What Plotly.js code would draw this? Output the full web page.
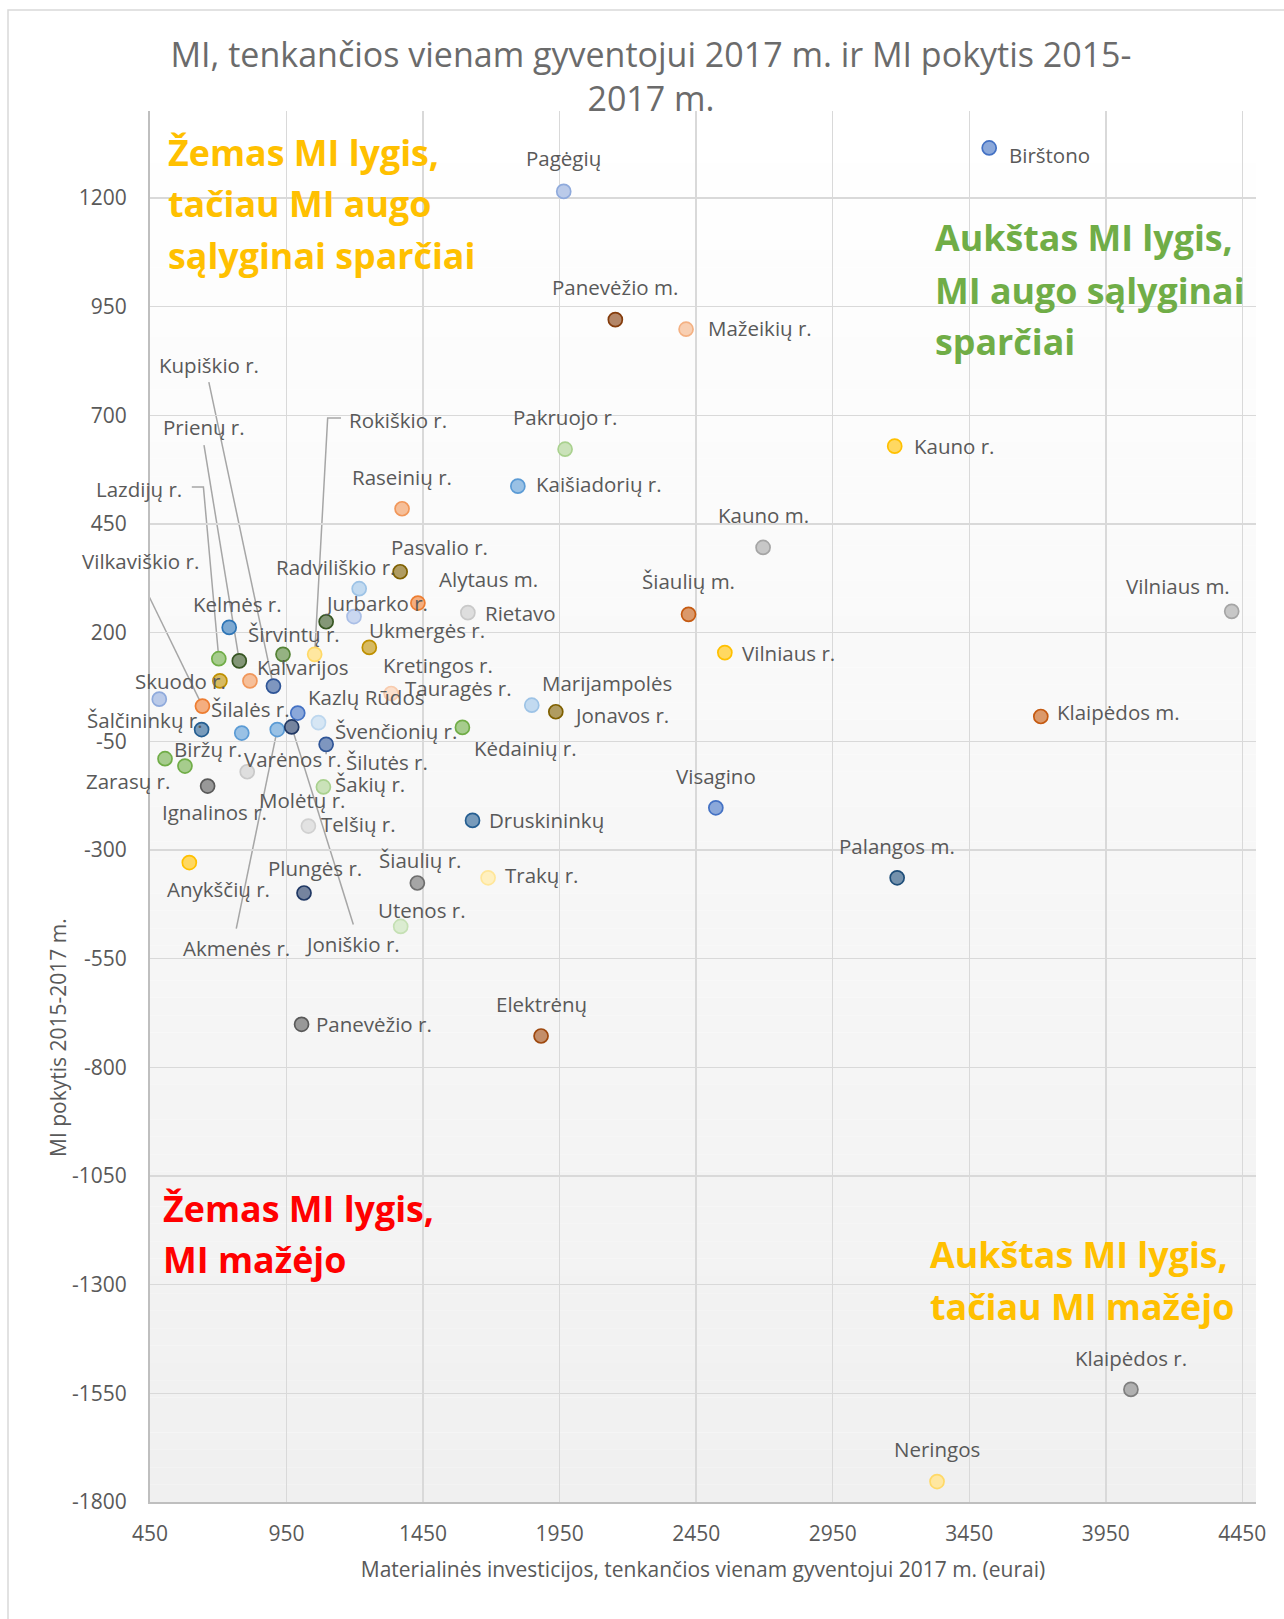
<!DOCTYPE html>
<html>
<head>
<meta charset="utf-8">
<script src="https://cdn.plot.ly/plotly-3.0.1.min.js"></script>
<style>html,body{margin:0;padding:0;background:#fff;}#chart{width:1284px;height:1619px;}</style>
</head>
<body>
<div id="chart"></div>
<script>
// ---------- DATA ----------
const municipalities = [
  "Pagėgių","Birštono","Panevėžio m.","Mažeikių r.","Pakruojo r.","Kauno r.","Kaišiadorių r.","Raseinių r.","Kauno m.","Pasvalio r.",
  "Radviliškio r.","Alytaus m.","Rietavo","Jurbarko r.","Šiaulių m.","Vilniaus m.","Kelmės r.","Širvintų r.","Ukmergės r.","Vilniaus r.",
  "Lazdijų r.","Prienų r.","Kalvarijos","Rokiškio r.","Skuodo r.","Kretingos r.","Kupiškio r.","Tauragės r.","Šilutės r.","Vilkaviškio r.",
  "Marijampolės","Jonavos r.","Kazlų Rūdos","Švenčionių r.","Klaipėdos m.","Šalčininkų r.","Šilalės r.","Akmenės r.","Joniškio r.","Kėdainių r.",
  "Varėnos r.","Zarasų r.","Biržų r.","Molėtų r.","Ignalinos r.","Šakių r.","Visagino","Druskininkų","Telšių r.","Anykščių r.",
  "Trakų r.","Palangos m.","Šiaulių r.","Plungės r.","Utenos r.","Panevėžio r.","Elektrėnų","Klaipėdos r.","Neringos"
];
// Materialinės investicijos, tenkančios vienam gyventojui 2017 m. (eurai)
const investment2017 = [
  1965,3523,2154,2413,1970,3177,1797,1373,2695,1366,
  1216,1431,1614,1197,2422,4411,740,1095,1253,2555,
  702,777,937,1053,706,816,902,1333,484,642,
  1848,1936,991,1067,3712,639,786,916,969,1594,
  1095,505,578,806,661,1085,2522,1631,1030,594,
  1688,3186,1429,1014,1368,1005,1882,4042,3332
];
// MI pokytis 2015-2017 m.
const change2015_2017 = [
  1215,1315,920,898,622,629,537,485,396,340,
  301,268,246,237,242,249,212,225,166,154,
  140,135,150,150,89,89,77,60,47,31,
  33,18,15,-7,7,-23,-31,-23,-17,-18,
  -57,-90,-107,-120,-153,-155,-203,-232,-245,-329,
  -364,-364,-376,-399,-476,-701,-728,-1541,-1753
];
const xTickVals = [450,950,1450,1950,2450,2950,3450,3950,4450];
const yTickVals = [-1800,-1550,-1300,-1050,-800,-550,-300,-50,200,450,700,950,1200];

// ---------- STYLE ----------
const markerBase = {
  "Pagėgių":"#8FAADC","Birštono":"#4472C4","Panevėžio m.":"#843C0C","Mažeikių r.":"#F4B183","Pakruojo r.":"#A9D18E",
  "Kauno r.":"#FFC000","Kaišiadorių r.":"#5B9BD5","Raseinių r.":"#F1975A","Kauno m.":"#A5A5A5","Pasvalio r.":"#7F6000",
  "Radviliškio r.":"#9DC3E6","Alytaus m.":"#ED7D31","Rietavo":"#C9C9C9","Jurbarko r.":"#A9BEE6","Šiaulių m.":"#C55A11",
  "Vilniaus m.":"#A5A5A5","Kelmės r.":"#2E75B6","Širvintų r.":"#385723","Ukmergės r.":"#BF9000","Vilniaus r.":"#FFC000",
  "Lazdijų r.":"#70AD47","Prienų r.":"#375623","Kalvarijos":"#548235","Rokiškio r.":"#FFD966","Skuodo r.":"#BF9000",
  "Kretingos r.":"#F1975A","Kupiškio r.":"#2F5597","Tauragės r.":"#F8CBAD","Šilutės r.":"#8FAADC","Vilkaviškio r.":"#ED7D31",
  "Marijampolės":"#9DC3E6","Jonavos r.":"#7F6000","Kazlų Rūdos":"#4472C4","Švenčionių r.":"#BDD7EE","Klaipėdos m.":"#C55A11",
  "Šalčininkų r.":"#255E91","Šilalės r.":"#5B9BD5","Akmenės r.":"#5B9BD5","Joniškio r.":"#203864","Kėdainių r.":"#70AD47",
  "Varėnos r.":"#2F5597","Zarasų r.":"#70AD47","Biržų r.":"#70AD47","Molėtų r.":"#C9C9C9","Ignalinos r.":"#595959",
  "Šakių r.":"#A9D18E","Visagino":"#4472C4","Druskininkų":"#255E91","Telšių r.":"#D0D0D0","Anykščių r.":"#FFC000",
  "Trakų r.":"#FFE699","Palangos m.":"#1F4E79","Šiaulių r.":"#6E6E6E","Plungės r.":"#203864","Utenos r.":"#C5E0B4",
  "Panevėžio r.":"#595959","Elektrėnų":"#9E480E","Klaipėdos r.":"#7F7F7F","Neringos":"#FFD966"
};
// label centre offsets in pixels from the marker (dx right, dy down)
const labelPos = {
  "Pagėgių":[0,-33],"Birštono":[60,7],"Panevėžio m.":[0,-33],"Mažeikių r.":[74,-1.5],"Pakruojo r.":[0,-32],
  "Kauno r.":[60,0],"Kaišiadorių r.":[81.5,-2.4],"Raseinių r.":[0,-32],"Kauno m.":[0,-32],"Pasvalio r.":[39,-25],
  "Radviliškio r.":[-23.5,-21.6],"Alytaus m.":[71,-23.7],"Rietavo":[53,0],"Jurbarko r.":[22.7,-13.4],"Šiaulių m.":[0,-33],
  "Vilniaus m.":[-53.7,-25.7],"Kelmės r.":[8,-23],"Širvintų r.":[-32.3,12.6],"Ukmergės r.":[57.4,-17.7],"Vilniaus r.":[63.4,0],
  "Lazdijų r.":[-80,-169.3],"Prienų r.":[-35.5,-233.4],"Kalvarijos":[20,13],"Rokiškio r.":[83.3,-234.3],"Skuodo r.":[-39,0],
  "Kretingos r.":[187.7,-15.7],"Kupiškio r.":[-64.6,-320.7],"Tauragės r.":[67.8,-5],"Šilutės r.":[227.9,62.7],"Vilkaviškio r.":[-62.3,-145],
  "Marijampolės":[75.3,-22.7],"Jonavos r.":[65.6,3.3],"Kazlų Rūdos":[68.5,-16],"Švenčionių r.":[77.5,8.4],"Klaipėdos m.":[77.5,-5],
  "Šalčininkų r.":[-56.2,-9.3],"Šilalės r.":[8.3,-24.4],"Akmenės r.":[-41,218],"Joniškio r.":[60.8,216.6],"Kėdainių r.":[63,21],
  "Varėnos r.":[-33.5,14.3],"Zarasų r.":[-37,22.4],"Biržų r.":[23.3,-16.7],"Molėtų r.":[55.2,28.3],"Ignalinos r.":[6.5,26],
  "Šakių r.":[46.7,-2.7],"Visagino":[0,-32],"Druskininkų":[74.3,0],"Telšių r.":[50,-2.4],"Anykščių r.":[29.4,26],
  "Trakų r.":[54,-2.7],"Palangos m.":[0,-31.7],"Šiaulių r.":[3,-23],"Plungės r.":[11,-24.7],"Utenos r.":[21.8,-16.3],
  "Panevėžio r.":[72.8,0],"Elektrėnų":[0,-31.7],"Klaipėdos r.":[0,-31],"Neringos":[0,-32.4]
};
// leader line vertices in pixels from the marker (dx right, dy down)
const leaders = {
  "Kupiškio r.":[[-64.6,-304]],
  "Prienų r.":[[-35.3,-215.7]],
  "Lazdijų r.":[[-15.4,-171.6],[-27,-171.6]],
  "Rokiškio r.":[[13,-236.3],[26.3,-236.3]],
  "Vilkaviškio r.":[[-62.3,-128]],
  "Akmenės r.":[[-41,199]],
  "Joniškio r.":[[61.6,197.6]],
  "Kalvarijos":[[0,10]],
  "Varėnos r.":[[0,10]]
};

function lighten(hex, t){
  const n = parseInt(hex.slice(1),16);
  const r=(n>>16)&255,g=(n>>8)&255,b=n&255;
  const f=c=>Math.round(c+(255-c)*t);
  return 'rgb('+f(r)+','+f(g)+','+f(b)+')';
}

const FONT = '"Open Sans", "Segoe UI", sans-serif';
const LABEL_COLOR = '#595959';

// plot area in pixels
const W=1284,H=1619,L=150,R=28,T=111,B=117;
const pw=W-L-R, ph=H-T-B;
const px=v=>(v-L)/pw, py=v=>(H-B-v)/ph;

const trace = {
  type:'scatter', mode:'markers',
  x: investment2017, y: change2015_2017, text: municipalities,
  hoverinfo:'text+x+y',
  marker:{
    size:14,
    color: municipalities.map(n=>lighten(markerBase[n],0.38)),
    line:{color: municipalities.map(n=>markerBase[n]), width:1.7}
  },
  showlegend:false
};

const annotations = [];
municipalities.forEach((n,i)=>{
  const p = labelPos[n];
  annotations.push({x:investment2017[i], y:change2015_2017[i], xref:'x', yref:'y', text:n,
    showarrow:false, xshift:p[0], yshift:-p[1],
    font:{family:FONT,size:20.5,color:LABEL_COLOR}});
});

// quadrant captions
const quadrants = [
  {lines:["Žemas MI lygis,","tačiau MI augo","sąlyginai sparčiai"], color:'#FFC000', x:166, y:[152.8,204.4,256]},
  {lines:["Aukštas MI lygis,","MI augo sąlyginai","sparčiai"], color:'#70AD47', x:933, y:[238.4,291,341.7]},
  {lines:["Žemas MI lygis,","MI mažėjo"], color:'#FF0000', x:161, y:[1208.7,1260]},
  {lines:["Aukštas MI lygis,","tačiau MI mažėjo"], color:'#FFC000', x:928, y:[1255,1306.7]}
];
quadrants.forEach(q=>q.lines.forEach((t,k)=>{
  annotations.push({xref:'paper',yref:'paper',x:px(q.x),y:py(q.y[k]-1),xanchor:'left',yanchor:'middle',
    showarrow:false,text:'<b>'+t+'</b>',font:{family:FONT,size:35.8,color:q.color}});
}));

// y-axis title
annotations.push({xref:'paper',yref:'paper',x:px(58),y:py(1038),showarrow:false,textangle:-90,
  text:'MI pokytis 2015-2017 m.',font:{family:FONT,size:21,color:LABEL_COLOR},xanchor:'center',yanchor:'middle'});

// background gradient bands + chart border
const shapes=[];
const N=80;
for(let k=0;k<N;k++){
  const c=Math.round(255-(255-240)*(k+0.5)/N);
  shapes.push({type:'rect',xref:'paper',yref:'paper',x0:0,x1:1,y0:1-(k+1)/N,y1:1-k/N,
    fillcolor:'rgb('+c+','+c+','+c+')',line:{width:0},layer:'below'});
}
shapes.push({type:'rect',xref:'paper',yref:'paper',x0:px(8),x1:px(1300),y0:py(1640),y1:py(10),
  fillcolor:'rgba(0,0,0,0)',line:{color:'#d9d9d9',width:1.5},layer:'below'});
// leader lines anchored at the data points, drawn in pixel units
municipalities.forEach((n,i)=>{
  const pts = leaders[n];
  if(!pts) return;
  let path='M0,0';
  pts.forEach(p=>{ path+=' L'+p[0]+','+(-p[1]); });
  shapes.push({type:'path',xref:'x',yref:'y',xsizemode:'pixel',ysizemode:'pixel',
    xanchor:investment2017[i],yanchor:change2015_2017[i],path:path,
    line:{color:'#a6a6a6',width:1.5},layer:'below'});
});

const layout = {
  width:W,height:H,
  margin:{l:L,r:R,t:T,b:B},
  paper_bgcolor:'#ffffff', plot_bgcolor:'#ffffff',
  font:{family:FONT,color:LABEL_COLOR},
  title:{text:'MI, tenkančios vienam gyventojui 2017 m. ir MI pokytis 2015-<br>2017 m.',
    font:{family:FONT,size:34,color:'#6b6b6b'},xref:'container',yref:'container',
    x:651/W,xanchor:'center',y:1-67/H,yanchor:'top'},
  xaxis:{range:[450,4500],tickvals:xTickVals,ticktext:xTickVals.map(String),showgrid:true,gridcolor:'#d9d9d9',gridwidth:1.5,
    zeroline:false,showline:true,linecolor:'#bfbfbf',linewidth:2,ticks:'',ticklabelstandoff:12,
    tickfont:{family:FONT,size:21,color:LABEL_COLOR},
    title:{text:'Materialinės investicijos, tenkančios vienam gyventojui 2017 m. (eurai)',font:{family:FONT,size:21,color:LABEL_COLOR},standoff:16}},
  yaxis:{range:[-1800,1400],tickvals:yTickVals,ticktext:yTickVals.map(String),showgrid:true,gridcolor:'#d9d9d9',gridwidth:1.5,
    zeroline:false,showline:true,linecolor:'#bfbfbf',linewidth:2,ticks:'',ticklabelstandoff:17,
    tickfont:{family:FONT,size:21,color:LABEL_COLOR}},
  annotations:annotations,
  shapes:shapes,
  showlegend:false
};

Plotly.newPlot('chart',[trace],layout,{displayModeBar:false,staticPlot:true});
</script>
</body>
</html>
